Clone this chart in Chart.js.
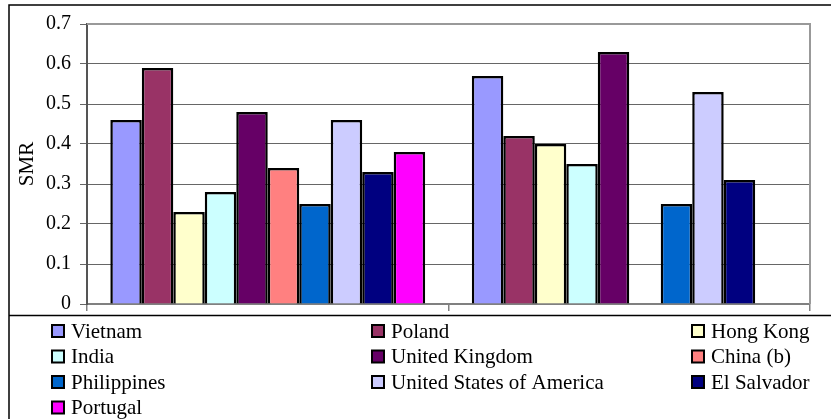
<!DOCTYPE html>
<html>
<head>
<meta charset="utf-8">
<script src="https://cdn.jsdelivr.net/npm/chart.js@4"></script>
<style>
  html, body { margin: 0; padding: 0; background: #fff; }
  #wrap { width: 831px; height: 419px; position: relative; }
</style>
</head>
<body>
<div id="wrap"><canvas id="smrChart" width="831" height="419"></canvas></div>
<script>
// two groups, no category labels shown
const groups = ['', ''];
const countries = ['Vietnam', 'Poland', 'Hong Kong', 'India', 'United Kingdom', 'China (b)',
    'Philippines', 'United States of America', 'El Salvador', 'Portugal'];
const colors = ['#9999FF', '#993366', '#FFFFCC', '#CCFFFF', '#660066', '#FF8080',
    '#0066CC', '#CCCCFF', '#000080', '#FF00FF'];
const group1 = [0.46, 0.59, 0.23, 0.28, 0.48, 0.34, 0.25, 0.46, 0.33, 0.38];
const group2 = [0.57, 0.42, 0.40, 0.35, 0.63, null, 0.25, 0.53, 0.31, null];
const yTicks = [0, 0.1, 0.2, 0.3, 0.4, 0.5, 0.6, 0.7];

const serif = '"Liberation Serif", "Times New Roman", serif';
Chart.defaults.font.family = serif;
Chart.defaults.color = '#000';

// frame lines + legend grid drawn by hand (Excel style)
const frameAndLegend = {
    id: 'frameAndLegend',
    afterDraw(chart) {
        const ctx = chart.ctx;
        const a = chart.chartArea;
        ctx.save();
        // plot area top + right border
        ctx.strokeStyle = '#999';
        ctx.lineWidth = 2;
        ctx.beginPath();
        ctx.moveTo(a.left, a.top);
        ctx.lineTo(a.right, a.top);
        ctx.lineTo(a.right, a.bottom);
        ctx.stroke();

        // outer frame
        ctx.strokeStyle = '#000';
        ctx.lineWidth = 1.5;
        ctx.beginPath();
        ctx.moveTo(831, 5);
        ctx.lineTo(9, 5);
        ctx.lineTo(9, 419);
        ctx.moveTo(9, 315.5);
        ctx.lineTo(831, 315.5);
        ctx.stroke();

        // legend
        const colX = [52, 372, 692];
        const rowY = [331, 356.5, 382, 407.5];
        ctx.font = '21px ' + serif;
        ctx.textBaseline = 'middle';
        ctx.textAlign = 'left';
        chart.data.datasets.forEach((ds, i) => {
            const x = colX[i % 3];
            const y = rowY[Math.floor(i / 3)];
            ctx.fillStyle = ds.backgroundColor;
            ctx.fillRect(x, y - 6, 12, 12);
            ctx.strokeStyle = '#000';
            ctx.lineWidth = 2;
            ctx.strokeRect(x, y - 6, 12, 12);
            ctx.fillStyle = '#000';
            ctx.fillText(ds.label, x + 19, y + 1);
        });
        ctx.restore();
    }
};

const datasets = countries.map((name, i) => ({
    label: name,
    data: [group1[i], group2[i]],
    backgroundColor: colors[i],
    borderColor: '#000',
    borderWidth: 2.5,
    borderSkipped: 'bottom',
    barPercentage: 1.0,
    categoryPercentage: 0.871
}));

const config = {
    type: 'bar',
    data: { labels: groups, datasets: datasets },
    options: {
        responsive: false,
        animation: false,
        layout: { padding: { left: 0, right: 21, top: 24, bottom: 0 } },
        plugins: {
            legend: { display: false },
            tooltip: { enabled: false }
        },
        scales: {
            x: {
                grid: { drawOnChartArea: false, drawTicks: true, tickLength: 7, color: '#808080', lineWidth: 1.5 },
                border: { color: '#808080', width: 2 },
                ticks: { display: false },
                afterFit(scale) { scale.height = 115; }
            },
            y: {
                min: 0,
                max: 0.7,
                afterBuildTicks(scale) { scale.ticks = yTicks.map(v => ({ value: v })); },
                ticks: {
                    padding: 9,
                    font: { size: 20 },
                    callback: v => String(Number(v.toFixed(1)))
                },
                grid: { color: '#666', lineWidth: 1, tickLength: 7 },
                border: { color: '#555', width: 2 },
                title: {
                    display: true,
                    text: 'SMR',
                    font: { size: 21 },
                    padding: { top: 15, bottom: 0 }
                },
                afterFit(scale) { scale.width = 87; }
            }
        }
    },
    plugins: [frameAndLegend]
};

const ctx = document.getElementById('smrChart').getContext('2d');
const chart = new Chart(ctx, config);
</script>
</body>
</html>
